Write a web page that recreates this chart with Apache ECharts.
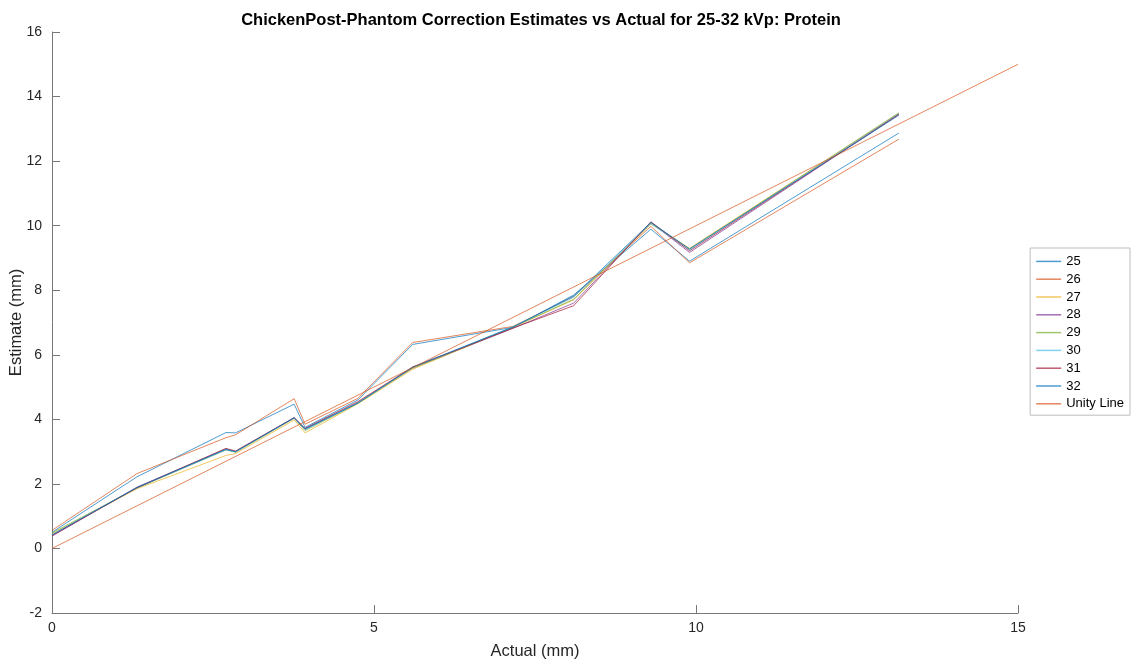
<!DOCTYPE html>
<html>
<head>
<meta charset="utf-8">
<script src="https://cdn.jsdelivr.net/npm/echarts@6/dist/echarts.min.js"></script>
<style>
  html, body { margin: 0; padding: 0; background: #fff; }
  #main { width: 1134px; height: 666px; }
</style>
</head>
<body>
<div id="main"></div>
<script>
// actual thickness (mm), shared by every kVp series
var actualMm = [0, 1.32, 2.7, 2.85, 3.76, 3.93, 4.75, 5.6, 7.16, 8.1, 9.3, 9.9, 13.15];

// estimated thickness (mm) per kVp
var kvpNames = ["25", "26", "27", "28", "29", "30", "31", "32"];
var est25 = [0.5, 2.22, 3.59, 3.58, 4.47, 3.75, 4.6, 6.32, 6.85, 7.85, 9.89, 8.9, 12.87];
var est26 = [0.56, 2.32, 3.43, 3.52, 4.64, 3.85, 4.65, 6.38, 6.88, 7.8, 9.98, 8.85, 12.68];
var est27 = [0.45, 1.85, 2.88, 2.94, 3.98, 3.58, 4.48, 5.55, 6.85, 7.7, 10.05, 9.3, 13.48];
var est28 = [0.38, 1.9, 3.08, 3.0, 4.05, 3.7, 4.52, 5.6, 6.82, 7.6, 10.1, 9.17, 13.45];
var est29 = [0.48, 1.87, 3.05, 2.98, 4.03, 3.65, 4.5, 5.58, 6.86, 7.72, 10.08, 9.27, 13.5];
var est30 = [0.42, 1.88, 3.06, 2.99, 4.04, 3.68, 4.52, 5.6, 6.87, 7.78, 10.06, 9.25, 13.47];
var est31 = [0.4, 1.88, 3.1, 3.02, 4.05, 3.72, 4.55, 5.62, 6.83, 7.52, 10.12, 9.22, 13.45];
var est32 = [0.42, 1.89, 3.07, 3.0, 4.05, 3.7, 4.5, 5.62, 6.86, 7.82, 10.1, 9.28, 13.42];
var estimates = [est25, est26, est27, est28, est29, est30, est31, est32];

// unity line end points
var unityX = [0, 15];
var unityY = [0, 15];

var xTicks = [0, 5, 10, 15];
var yTicks = [-2, 0, 2, 4, 6, 8, 10, 12, 14, 16];

// matlab default line colours
var colors = ["#0072BD", "#D95319", "#EDB120", "#7E2F8E", "#77AC30", "#4DBEEE", "#A2142F", "#0072BD", "#D95319"];

function pairs(xs, ys) {
  return xs.map(function (x, i) { return [x, ys[i]]; });
}

var myChart = echarts.init(document.getElementById("main"));

var series = kvpNames.map(function (name, i) {
  return {
    name: name,
    type: "line",
    showSymbol: false,
    lineStyle: { width: 1, color: colors[i], opacity: 0.7 },
    itemStyle: { color: colors[i], opacity: 0.7 },
    data: pairs(actualMm, estimates[i]),
    z: 2 + i
  };
});
series.push({
  name: "Unity Line",
  type: "line",
  showSymbol: false,
  lineStyle: { width: 1, color: colors[8], opacity: 0.7 },
  itemStyle: { color: colors[8], opacity: 0.7 },
  data: pairs(unityX, unityY),
  z: 20
});

var axisGray = "#262626";
var font = "'Liberation Sans', Arial, sans-serif";

myChart.setOption({
  animation: false,
  color: colors,
  title: {
    text: "ChickenPost-Phantom Correction Estimates vs Actual for 25-32 kVp: Protein",
    left: 536,
    textAlign: "center",
    top: 7,
    textStyle: { fontFamily: font, fontSize: 16.5, fontWeight: "bold", color: "#000" }
  },
  grid: { left: 52, right: 116, top: 32, bottom: 53, outerBoundsMode: "none", containLabel: false },
  legend: {
    orient: "vertical",
    right: 4,
    top: 248,
    icon: "rect",
    itemWidth: 25,
    itemHeight: 1.5,
    itemGap: 3,
    padding: [6, 6, 4, 6],
    borderColor: "#bdbdbd",
    borderWidth: 1,
    backgroundColor: "#fff",
    textStyle: { fontFamily: font, fontSize: 13, color: "#000", lineHeight: 14.8 },
    data: kvpNames.concat(["Unity Line"])
  },
  xAxis: {
    type: "value",
    min: xTicks[0],
    max: xTicks[xTicks.length - 1],
    interval: 5,
    name: "Actual (mm)",
    nameLocation: "middle",
    nameGap: 30,
    nameMoveOverlap: false,
    nameTextStyle: { fontFamily: font, fontSize: 16.5, color: axisGray },
    axisLine: { onZero: false, lineStyle: { color: "#777", width: 1 } },
    axisTick: { inside: true, length: 8, lineStyle: { color: "#777" } },
    axisLabel: { fontFamily: font, fontSize: 14, color: axisGray, margin: 8 },
    splitLine: { show: false }
  },
  yAxis: {
    type: "value",
    min: yTicks[0],
    max: yTicks[yTicks.length - 1],
    interval: 2,
    name: "Estimate (mm)",
    nameLocation: "middle",
    nameGap: 27,
    nameMoveOverlap: false,
    nameTextStyle: { fontFamily: font, fontSize: 16.5, color: axisGray },
    axisLine: { onZero: false, lineStyle: { color: "#777", width: 1 } },
    axisTick: { inside: true, length: 8, lineStyle: { color: "#777" } },
    axisLabel: { fontFamily: font, fontSize: 14, color: axisGray, margin: 10 },
    splitLine: { show: false }
  },
  series: series
});
</script>
</body>
</html>
